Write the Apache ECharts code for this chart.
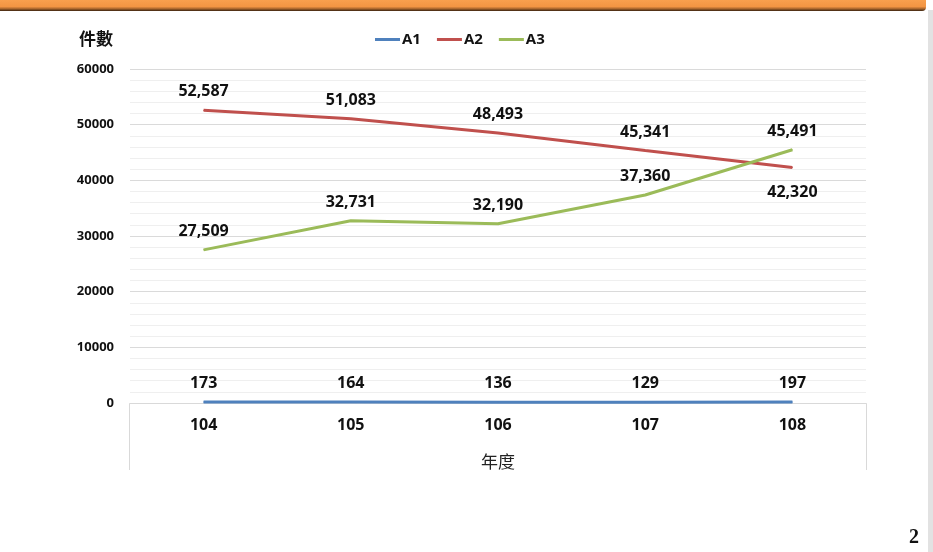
<!DOCTYPE html>
<html>
<head>
<meta charset="utf-8">
<script src="https://cdn.jsdelivr.net/npm/echarts@6/dist/echarts.min.js"></script>
<style>
html,body{margin:0;padding:0;background:#fff;}
#chart{width:933px;height:552px;}
</style>
</head>
<body>
<div id="chart"></div>
<script>
const categories = ['104', '105', '106', '107', '108'];
const seriesNames = ['A1', 'A2', 'A3'];
const A1 = [173, 164, 136, 129, 197];
const A2 = [52587, 51083, 48493, 45341, 42320];
const A3 = [27509, 32731, 32190, 37360, 45491];
const yTicks = [0, 10000, 20000, 30000, 40000, 50000, 60000];
const colors = ['#4F81BD', '#C0504D', '#9BBB59'];

const chart = echarts.init(document.getElementById('chart'));
const labelFont = "'Open Sans', 'Noto Sans', sans-serif";

function fmt(v) { return v.toLocaleString('en-US'); }

function makeSeries(name, values, color, belowIdx) {
  return {
    name: name,
    type: 'line',
    data: values.map((v, i) => i === belowIdx ? { value: v, label: { position: 'bottom', distance: 17 } } : v),
    symbol: 'circle',
    symbolSize: 1,
    showSymbol: true,
    lineStyle: { width: 3, color: color },
    itemStyle: { color: color },
    label: {
      show: true,
      position: 'top',
      distance: 10,
      fontFamily: labelFont,
      fontWeight: 'bold',
      fontSize: 16,
      color: '#111',
      formatter: p => fmt(p.value)
    }
  };
}

chart.setOption({
  animation: false,
  title: {
    text: '件數',
    left: 74,
    top: 25,
    textStyle: { fontFamily: "'Noto Sans CJK TC', sans-serif", fontWeight: 'bold', fontSize: 17, color: '#111' }
  },
  legend: {
    data: seriesNames,
    left: 370,
    top: 27,
    icon: 'rect',
    itemWidth: 25,
    itemHeight: 3,
    itemGap: 16,
    textStyle: { fontFamily: labelFont, fontWeight: 'bold', fontSize: 15, color: '#111', padding: [0, 0, 0, -3] }
  },
  grid: { left: 130, right: 67, top: 69, bottom: 149 },
  xAxis: {
    type: 'category',
    data: categories,
    boundaryGap: true,
    axisLine: { show: true, lineStyle: { color: '#D9D9D9', width: 1 } },
    axisTick: { show: false },
    axisLabel: { margin: 14, fontFamily: labelFont, fontWeight: 'bold', fontSize: 16, color: '#111' },
    name: '年度',
    nameLocation: 'middle',
    nameGap: 50,
    nameTextStyle: { fontFamily: "'Noto Sans CJK TC', serif", fontSize: 17, color: '#222' }
  },
  yAxis: {
    type: 'value',
    min: yTicks[0],
    max: yTicks[yTicks.length - 1],
    interval: 10000,
    axisLine: { show: false },
    axisTick: { show: false },
    axisLabel: { margin: 16, fontFamily: labelFont, fontWeight: 'bold', fontSize: 13, color: '#111', formatter: v => String(v) },
    splitLine: { show: true, lineStyle: { color: '#DADADA', width: 1 } },
    minorTick: { show: false, splitNumber: 5 },
    minorSplitLine: { show: true, lineStyle: { color: '#EFEFEF', width: 1 } }
  },
  series: [
    makeSeries('A1', A1, colors[0], -1),
    makeSeries('A2', A2, colors[1], 4),
    makeSeries('A3', A3, colors[2], -1)
  ],
  graphic: [
    {
      type: 'rect',
      shape: { x: 0, y: 0, width: 926, height: 11, r: [0, 0, 4, 0] },
      style: {
        fill: new echarts.graphic.LinearGradient(0, 0, 0, 1, [
          { offset: 0, color: '#F9A04E' },
          { offset: 0.6, color: '#F39543' },
          { offset: 0.8, color: '#A8652C' },
          { offset: 1, color: '#3A2410' }
        ])
      },
      z: 10
    },
    {
      type: 'rect',
      shape: { x: 928, y: 10, width: 5, height: 542 },
      style: { fill: '#E2E2E2' },
      z: 10
    },
    {
      type: 'polyline',
      shape: { points: [[129.5, 470], [129.5, 403.5], [866.5, 403.5], [866.5, 470]] },
      style: { stroke: '#D9D9D9', lineWidth: 1, fill: null },
      z: 1
    },
    {
      type: 'text',
      left: 909,
      top: 528,
      style: { text: '2', fontFamily: "'Liberation Serif', 'DejaVu Serif', serif", fontWeight: 'bold', fontSize: 20, fill: '#111' },
      z: 10
    }
  ]
});
</script>
</body>
</html>
